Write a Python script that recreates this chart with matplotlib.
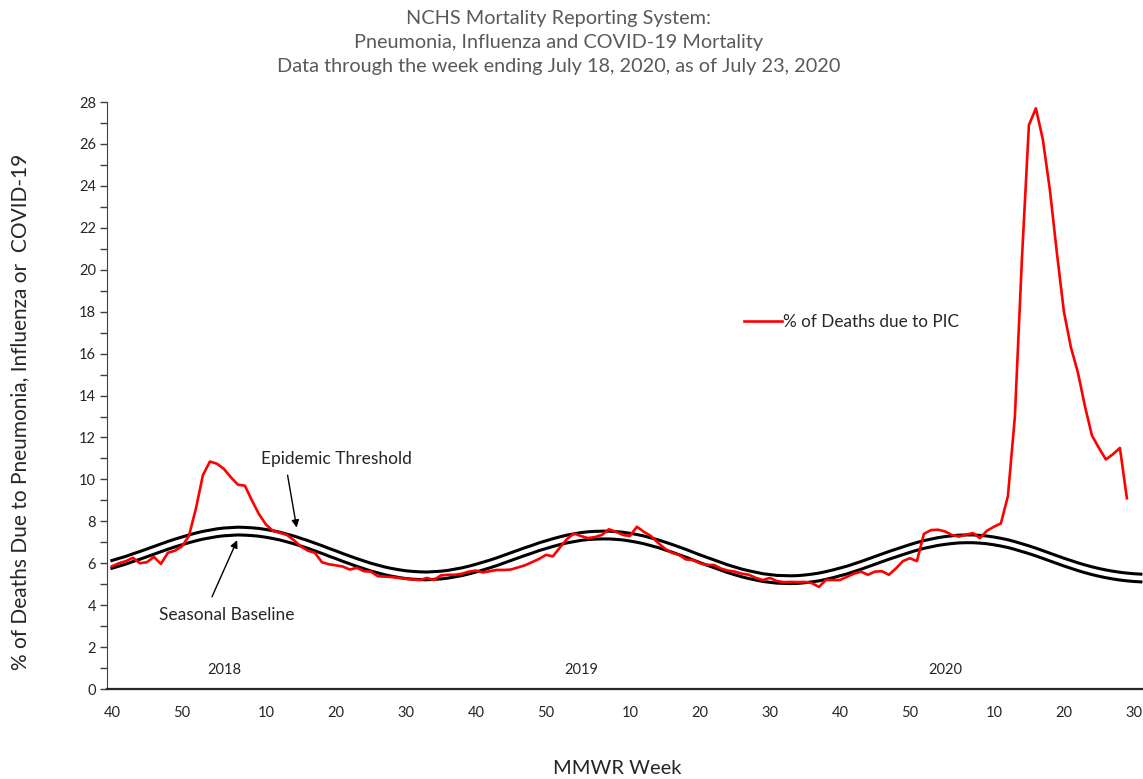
import matplotlib
matplotlib.use("Agg")
import matplotlib.pyplot as plt

plt.rcParams['font.family'] = ['Lato', 'DejaVu Sans']

# week index 0 = 2017 week 40
weeks_per_year = {2017: 52, 2018: 52, 2019: 52}

pic = [5.85, 6.0, 6.1, 6.26, 6.0, 6.05, 6.3, 5.97, 6.5, 6.6,
       6.8, 7.3, 8.6, 10.2, 10.85, 10.75, 10.5, 10.1, 9.75, 9.7,
       9.0, 8.35, 7.85, 7.55, 7.45, 7.35, 7.1, 6.8, 6.6, 6.5,
       6.05, 5.95, 5.9, 5.84, 5.7, 5.78, 5.62, 5.6, 5.38, 5.36,
       5.34, 5.3, 5.26, 5.22, 5.2, 5.3, 5.2, 5.42, 5.45, 5.45,
       5.5, 5.6, 5.65, 5.56, 5.62, 5.68, 5.68, 5.7, 5.8, 5.9,
       6.05, 6.2, 6.4, 6.33, 6.75, 7.15, 7.42, 7.3, 7.2, 7.25,
       7.35, 7.62, 7.5, 7.35, 7.3, 7.74, 7.5, 7.3, 6.98, 6.7,
       6.5, 6.4, 6.18, 6.16, 6.0, 5.92, 5.92, 5.75, 5.65, 5.6,
       5.5, 5.45, 5.3, 5.2, 5.3, 5.15, 5.1, 5.11, 5.1, 5.11,
       5.05, 4.87, 5.2, 5.2, 5.2, 5.35, 5.5, 5.6, 5.45, 5.6,
       5.62, 5.45, 5.75, 6.1, 6.24, 6.1, 7.4, 7.58, 7.6, 7.52,
       7.35, 7.27, 7.36, 7.44, 7.2, 7.55, 7.74, 7.9, 9.2, 13.0,
       20.5, 26.9, 27.7, 26.2, 23.8, 20.8, 18.0, 16.3, 15.1, 13.5,
       12.1, 11.5, 10.95, 11.2, 11.5, 9.1]

baseline = [5.76, 5.86, 5.96, 6.08, 6.19, 6.31, 6.43, 6.55, 6.67, 6.78,
            6.88, 6.98, 7.07, 7.15, 7.21, 7.27, 7.31, 7.33, 7.35, 7.34,
            7.32, 7.29, 7.24, 7.18, 7.11, 7.02, 6.93, 6.82, 6.71, 6.59,
            6.47, 6.34, 6.22, 6.09, 5.97, 5.85, 5.74, 5.63, 5.54, 5.45,
            5.38, 5.32, 5.27, 5.24, 5.22, 5.21, 5.23, 5.25, 5.29, 5.35,
            5.41, 5.49, 5.58, 5.68, 5.78, 5.89, 6.01, 6.13, 6.25, 6.37,
            6.48, 6.60, 6.70, 6.80, 6.89, 6.97, 7.03, 7.09, 7.13, 7.15,
            7.16, 7.16, 7.14, 7.11, 7.06, 7.00, 6.93, 6.84, 6.75, 6.64,
            6.53, 6.41, 6.29, 6.16, 6.03, 5.91, 5.79, 5.67, 5.55, 5.45,
            5.35, 5.27, 5.20, 5.13, 5.09, 5.05, 5.04, 5.03, 5.04, 5.07,
            5.11, 5.16, 5.23, 5.31, 5.40, 5.49, 5.60, 5.71, 5.83, 5.95,
            6.07, 6.19, 6.30, 6.41, 6.52, 6.62, 6.71, 6.78, 6.85, 6.90,
            6.94, 6.97, 6.98, 6.98, 6.96, 6.93, 6.88, 6.82, 6.75, 6.66,
            6.56, 6.46, 6.35, 6.23, 6.11, 5.99, 5.87, 5.76, 5.65, 5.55,
            5.46, 5.38, 5.31, 5.25, 5.20, 5.16, 5.13, 5.11]

threshold = [6.13, 6.23, 6.33, 6.45, 6.56, 6.68, 6.80, 6.92, 7.04, 7.15,
             7.25, 7.35, 7.44, 7.52, 7.58, 7.64, 7.68, 7.70, 7.72, 7.71,
             7.69, 7.66, 7.61, 7.55, 7.48, 7.39, 7.30, 7.19, 7.08, 6.96,
             6.84, 6.71, 6.59, 6.46, 6.34, 6.22, 6.11, 6.00, 5.91, 5.82,
             5.75, 5.69, 5.64, 5.61, 5.59, 5.58, 5.60, 5.62, 5.66, 5.72,
             5.78, 5.86, 5.95, 6.05, 6.15, 6.26, 6.38, 6.50, 6.62, 6.74,
             6.85, 6.97, 7.07, 7.17, 7.26, 7.34, 7.40, 7.46, 7.50, 7.52,
             7.53, 7.53, 7.51, 7.48, 7.43, 7.37, 7.30, 7.21, 7.12, 7.01,
             6.90, 6.78, 6.66, 6.53, 6.40, 6.28, 6.16, 6.04, 5.92, 5.82,
             5.72, 5.64, 5.57, 5.50, 5.46, 5.42, 5.41, 5.40, 5.41, 5.44,
             5.48, 5.53, 5.60, 5.68, 5.77, 5.86, 5.97, 6.08, 6.20, 6.32,
             6.44, 6.56, 6.67, 6.78, 6.89, 6.99, 7.08, 7.15, 7.22, 7.27,
             7.31, 7.34, 7.35, 7.35, 7.33, 7.30, 7.25, 7.19, 7.12, 7.03,
             6.93, 6.83, 6.72, 6.60, 6.48, 6.36, 6.24, 6.13, 6.02, 5.92,
             5.83, 5.75, 5.68, 5.62, 5.57, 5.53, 5.50, 5.48]

tick_weeks = [40, 50, 10, 20, 30, 40, 50, 10, 20, 30, 40, 50, 10, 20, 30]
tick_years = [2017, 2017, 2018, 2018, 2018, 2018, 2018, 2019, 2019, 2019, 2019, 2019, 2020, 2020, 2020]
year_labels = ['2018', '2019', '2020']
year_label_weeks = [(2018, 4), (2019, 3), (2020, 3)]


def week_index(year, wk):
    idx = wk - 40
    y = 2017
    while y < year:
        idx += weeks_per_year[y]
        y += 1
    return idx


fig = plt.figure(figsize=(11.43, 7.79), dpi=100)
ax = fig.add_axes([0.0936, 0.1155, 0.9064, 0.7535])

x_pic = list(range(len(pic)))
x_base = list(range(len(baseline)))
ax.plot(x_base, threshold, color='black', lw=2.2, solid_joinstyle='round')
ax.plot(x_base, baseline, color='black', lw=2.2, solid_joinstyle='round')
ax.plot(x_pic, pic, color='#ff0000', lw=1.9, solid_joinstyle='round',
        label='% of Deaths due to PIC')

ax.set_xlim(-0.7, 147.3)
ax.set_ylim(0, 28)
ax.set_yticks(range(0, 29, 2))
ax.set_yticks(range(1, 28, 2), minor=True)
ax.set_xticks([week_index(y, w) for y, w in zip(tick_years, tick_weeks)])
ax.set_xticklabels([str(w) for w in tick_weeks])
ax.tick_params(axis='x', length=0, pad=12, labelsize=10.5, labelcolor='#262626')
ax.tick_params(axis='y', which='both', direction='out', length=5, width=1,
               color='#404040', labelsize=10.5, labelcolor='#262626', pad=3)
for s in ['top', 'right']:
    ax.spines[s].set_visible(False)
ax.spines['left'].set_color('#404040')
ax.spines['bottom'].set_color('#262626')
ax.spines['bottom'].set_linewidth(1.6)

for lab, (y, w) in zip(year_labels, year_label_weeks):
    ax.text(week_index(y, w), 0.55, lab, fontsize=10.5, color='#262626',
            ha='center', va='bottom')

# annotation texts and their arrows
ax.text(32.1, 10.95, 'Epidemic Threshold', fontsize=12.5, color='#262626',
        ha='center', va='center')
ax.annotate('', xy=(26.4, 7.7), xytext=(25.1, 10.2),
            arrowprops=dict(arrowstyle='-|>', color='black', lw=1,
                            mutation_scale=11, shrinkA=0, shrinkB=0))
ax.text(16.4, 3.55, 'Seasonal Baseline', fontsize=12.5, color='#262626',
        ha='center', va='center')
ax.annotate('', xy=(17.9, 7.1), xytext=(14.3, 4.4),
            arrowprops=dict(arrowstyle='-|>', color='black', lw=1,
                            mutation_scale=11, shrinkA=0, shrinkB=0))

ax.legend(loc='center left', bbox_to_anchor=(0.6, 0.625), frameon=False,
          handlelength=2.2, handletextpad=0.1, fontsize=12.3,
          labelcolor='#262626')

fig.text(0.489, 0.987, 'NCHS Mortality Reporting System:\n'
         'Pneumonia, Influenza and COVID-19 Mortality\n'
         'Data through the week ending July 18, 2020, as of July 23, 2020',
         ha='center', va='top', fontsize=14.3, color='#595959', linespacing=1.5)
fig.text(0.018, 0.471, '% of Deaths Due to Pneumonia, Influenza or  COVID-19',
         rotation=90, ha='center', va='center', fontsize=15, color='#262626')
fig.text(0.54, 0.014, 'MMWR Week', ha='center', va='center', fontsize=14.5,
         color='#262626')

fig.savefig('out.png', dpi=100)
